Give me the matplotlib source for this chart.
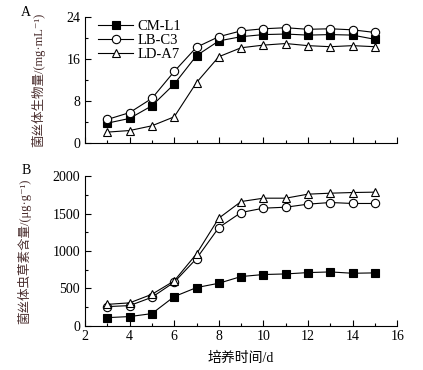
import matplotlib.pyplot as plt
from matplotlib.ticker import MultipleLocator

# ===============================
# DATA
# ===============================
days = [3, 4, 5, 6, 7, 8, 9, 10, 11, 12, 13, 14, 15]
strains = ["CM-L1", "LB-C3", "LD-A7"]

biomass_cm = [3.8, 4.7, 7.1, 11.2, 16.6, 19.4, 20.2, 20.6, 20.7, 20.5, 20.6, 20.5, 19.7]
biomass_lb = [4.5, 5.8, 8.5, 13.6, 18.2, 20.2, 21.3, 21.7, 21.9, 21.6, 21.7, 21.5, 21.0]
biomass_ld = [2.1, 2.4, 3.3, 5.0, 11.5, 16.4, 18.1, 18.6, 18.9, 18.5, 18.3, 18.5, 18.3]

cord_cm = [107, 121, 161, 389, 510, 568, 658, 685, 693, 711, 720, 702, 707]
cord_lb = [255, 268, 380, 582, 899, 1315, 1517, 1575, 1588, 1629, 1651, 1638, 1638]
cord_ld = [285, 305, 420, 600, 962, 1441, 1664, 1709, 1709, 1763, 1776, 1785, 1790]

# ===============================
# STYLE
# ===============================
plt.rcParams['font.family'] = ['Liberation Serif', 'Noto Sans CJK SC', 'DejaVu Serif']
plt.rcParams['font.size'] = 10
label_color = "#4a2e2e"

styles = [
    dict(marker="s", mfc="black", mec="black"),
    dict(marker="o", mfc="white", mec="black"),
    dict(marker="^", mfc="white", mec="black"),
]

fig = plt.figure(figsize=(4.23, 3.70), dpi=100)
ax_a = fig.add_axes([0.201, 0.613, 0.738, 0.342])
ax_b = fig.add_axes([0.201, 0.120, 0.738, 0.403])


def style_axis(ax):
    for side in ("top", "right"):
        ax.spines[side].set_visible(False)
    for side in ("left", "bottom"):
        ax.spines[side].set_linewidth(0.8)
    ax.tick_params(which="both", direction="in", width=0.8, labelsize=10)
    ax.tick_params(which="major", length=4)
    ax.tick_params(which="minor", length=2)
    ax.set_xlim(2, 16)
    ax.xaxis.set_major_locator(MultipleLocator(2))
    ax.xaxis.set_minor_locator(MultipleLocator(1))


# ===============================
# PANEL A
# ===============================
for vals, name, st in zip([biomass_cm, biomass_lb, biomass_ld], strains, styles):
    ax_a.plot(days, vals, color="black", lw=0.8, ms=6, mew=0.8, label=name, **st)
style_axis(ax_a)
ax_a.set_ylim(0, 24)
ax_a.yaxis.set_major_locator(MultipleLocator(8))
ax_a.yaxis.set_minor_locator(MultipleLocator(4))
ax_a.tick_params(axis="x", labelbottom=False)
ax_a.set_ylabel("菌丝体生物量/(mg·mL⁻¹)", color=label_color, fontsize=9, labelpad=15)
ax_a.legend(loc="upper left", bbox_to_anchor=(0.0, 1.08), frameon=False,
            handlelength=2.4, handletextpad=0.3, labelspacing=0.05, fontsize=10.5)
fig.text(0.05, 0.958, "A", fontsize=10)

# ===============================
# PANEL B
# ===============================
for vals, name, st in zip([cord_cm, cord_lb, cord_ld], strains, styles):
    ax_b.plot(days, vals, color="black", lw=0.8, ms=6, mew=0.8, label=name, **st)
style_axis(ax_b)
ax_b.set_ylim(0, 2000)
ax_b.yaxis.set_major_locator(MultipleLocator(500))
ax_b.yaxis.set_minor_locator(MultipleLocator(250))
ax_b.set_ylabel("菌丝体虫草素含量/(μg·g⁻¹)", color=label_color, fontsize=9, labelpad=15)
ax_b.set_xlabel("培养时间/d", fontsize=10, labelpad=6)
fig.text(0.05, 0.53, "B", fontsize=10)

fig.savefig("out.png", dpi=100)
